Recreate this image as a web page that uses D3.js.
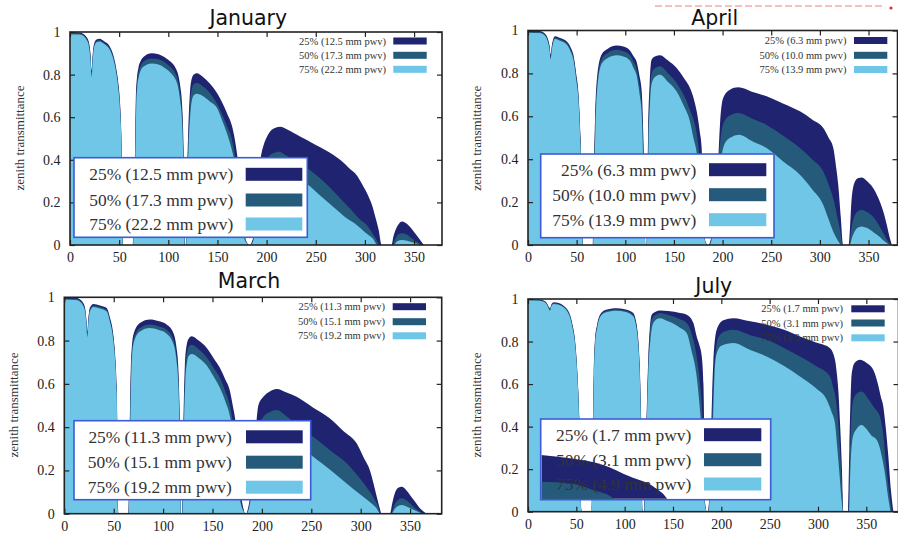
<!DOCTYPE html>
<html>
<head>
<meta charset="utf-8">
<script src="https://cdn.jsdelivr.net/npm/d3@7"></script>
<style>
	body { margin: 0; background: #fff; }
	svg { display: block; }
</style>
</head>
<body>
<svg id="chart" width="898" height="535"></svg>
<script>
// axis ticks and legend labels
const freqTicks = [0, 50, 100, 150, 200, 250, 300, 350];
const transTicks = [0, 0.2, 0.4, 0.6, 0.8, 1];
const quantiles = ["25%", "50%", "75%"];
const pwvJan = [12.5, 17.3, 22.2];
const pwvApr = [6.3, 10.0, 13.9];
const pwvMar = [11.3, 15.1, 19.2];
const pwvJul = [1.7, 3.1, 4.9];

// [frequency, zenith transmittance]
const jan25 = [[0,1],[10,0.998],[14,0.99],[17,0.975],[19,0.955],[20.8,0.9],[22,0.82],[23,0.89],[24.5,0.945],[27,0.965],[30,0.968],[35,0.955],[40,0.935],[44,0.892],[47,0.83],[49,0.767],[51,0.66],[52.3,0.5],[53.2,0.25],[53.8,0],
	[63.8,0],[65,0.2],[66,0.4],[67,0.7],[68,0.78],[69.5,0.83],[72,0.865],[75,0.884],[83,0.9],[90,0.895],[98,0.876],[103,0.858],[107,0.835],[110,0.8],[112,0.75],[114,0.66],[115.3,0.5],[116.2,0.25],[116.8,0],
	[117.8,0],[119,0.3],[120.4,0.55],[121.8,0.7],[123.8,0.78],[126,0.8],[129,0.806],[135,0.79],[142,0.759],[150,0.71],[156,0.657],[160,0.615],[164.5,0.563],[167.5,0.5],[169.6,0.438],[172,0.35],[174,0.25],[176,0.12],[178,0.04],[180,0.012],[182,0],
	[183,0],[185,0.015],[186.5,0.04],[188,0.1],[190,0.22],[192,0.33],[194,0.41],[197,0.47],[200,0.505],[204,0.535],[209,0.55],[214,0.555],[220,0.545],[230,0.52],[240,0.495],[250,0.47],[260,0.445],[268,0.422],[276,0.395],[284,0.36],[292,0.325],[298,0.278],[303,0.235],[307,0.19],[311,0.125],[314,0.07],[317,0],
	[327,0],[329,0.04],[332,0.08],[335,0.102],[337.5,0.11],[341,0.105],[346,0.085],[351,0.055],[356,0.025],[360,0]];
const jan50 = [[0,0.995],[10,0.993],[14,0.985],[17,0.968],[19,0.946],[20.8,0.885],[22,0.805],[23,0.875],[24.5,0.936],[27,0.958],[30,0.961],[35,0.948],[40,0.927],[44,0.882],[47,0.818],[49,0.752],[51,0.64],[52.3,0.48],[53.1,0.23],[53.7,0],
	[64,0],[65.2,0.2],[66.2,0.4],[67.2,0.68],[68.2,0.76],[69.7,0.81],[72,0.843],[75,0.862],[83,0.876],[90,0.872],[98,0.852],[103,0.832],[107,0.808],[110,0.77],[112,0.715],[114,0.62],[115.2,0.46],[116,0.22],[116.7,0],
	[118,0],[119.2,0.28],[120.6,0.52],[122,0.66],[124,0.735],[126,0.755],[129,0.76],[135,0.745],[142,0.715],[150,0.66],[156,0.6],[160,0.555],[164.5,0.5],[167.5,0.43],[169.6,0.37],[172,0.28],[174,0.18],[176,0.08],[178,0.03],[180,0.01],[181.8,0],
	[183.3,0],[185.3,0.012],[187,0.04],[190,0.15],[193,0.28],[196,0.35],[200,0.4],[206,0.43],[213,0.438],[220,0.42],[230,0.395],[240,0.365],[250,0.33],[260,0.29],[274.7,0.22],[285,0.17],[295,0.12],[301.8,0.094],[307,0.06],[311,0.03],[315,0],
	[328,0],[331,0.03],[334,0.05],[337.5,0.055],[342,0.05],[348,0.03],[354,0.012],[358,0]];
const jan75 = [[0,0.99],[10,0.988],[14,0.98],[17,0.962],[19,0.938],[20.8,0.872],[22,0.79],[23,0.862],[24.5,0.928],[27,0.952],[30,0.955],[35,0.942],[40,0.92],[44,0.874],[47,0.808],[49,0.74],[51,0.625],[52.3,0.46],[53,0.22],[53.6,0],
	[64.2,0],[65.4,0.2],[66.4,0.4],[67.4,0.66],[68.4,0.74],[70,0.79],[72,0.82],[75,0.838],[83,0.852],[90,0.848],[98,0.826],[103,0.805],[107,0.78],[110,0.74],[112,0.68],[114,0.58],[115.1,0.43],[115.9,0.2],[116.6,0],
	[118.2,0],[119.4,0.26],[120.8,0.48],[122.2,0.6],[124,0.68],[126,0.703],[129,0.71],[135,0.7],[142,0.675],[150,0.64],[156,0.57],[160,0.52],[164.5,0.45],[167.5,0.39],[169.6,0.34],[172,0.24],[174,0.15],[176,0.06],[178,0.022],[180,0.008],[181.6,0],
	[183.6,0],[185.6,0.01],[187.5,0.04],[191,0.15],[195,0.26],[200,0.31],[207,0.335],[214,0.344],[225,0.325],[240,0.29],[257.7,0.219],[270,0.17],[280,0.13],[291.6,0.094],[300,0.06],[308,0.03],[313,0],
	[329,0],[333,0.018],[337.5,0.023],[343,0.02],[350,0.01],[356,0]];

const mar25 = [[0,1],[12,0.998],[16,0.99],[19,0.975],[21,0.952],[22.3,0.9],[23.3,0.843],[24.3,0.9],[25.8,0.95],[29.4,0.969],[36,0.962],[42.9,0.95],[46,0.91],[49.6,0.827],[51.5,0.73],[53,0.596],[54,0.3],[54.6,0],
	[64.8,0],[66,0.35],[67.5,0.7],[69.9,0.827],[76.6,0.881],[86.7,0.897],[95,0.89],[103.6,0.874],[110.4,0.835],[113.5,0.77],[115.4,0.673],[116.8,0.45],[117.5,0.25],[118.1,0],
	[119.3,0],[120.5,0.4],[122,0.68],[123.9,0.781],[126,0.81],[129,0.82],[136,0.8],[144.2,0.766],[151,0.72],[157.6,0.673],[163,0.62],[167.7,0.566],[170.5,0.5],[172.8,0.442],[175.5,0.33],[177.5,0.15],[179.6,0.065],[181.5,0.02],[183,0],
	[184,0],[186,0.025],[187.6,0.065],[190,0.15],[192,0.28],[194,0.4],[196.4,0.5],[201.5,0.54],[208,0.565],[214.9,0.576],[225,0.56],[235.2,0.54],[252,0.49],[268.9,0.44],[283,0.38],[295.9,0.325],[303,0.26],[309.4,0.2],[313,0.14],[316.2,0.079],[319,0.03],[321.2,0],
	[329.6,0],[332,0.05],[335,0.1],[338,0.12],[341.5,0.125],[346,0.11],[351,0.08],[356,0.05],[361,0.02],[366.8,0]];
const mar50 = [[0,0.995],[12,0.993],[16,0.985],[19,0.968],[21,0.943],[22.3,0.888],[23.3,0.83],[24.3,0.888],[25.8,0.941],[29.4,0.962],[36,0.955],[42.9,0.942],[46,0.9],[49.6,0.815],[51.5,0.715],[53,0.58],[53.9,0.28],[54.5,0],
	[65,0],[66.2,0.33],[67.7,0.68],[70,0.805],[76.6,0.858],[86.7,0.874],[95,0.866],[103.6,0.85],[110.4,0.805],[113.5,0.735],[115.4,0.63],[116.7,0.42],[117.4,0.22],[118,0],
	[119.5,0],[120.7,0.38],[122.2,0.64],[124,0.74],[126,0.772],[129,0.781],[136,0.76],[144.2,0.722],[151,0.675],[157.6,0.627],[163,0.565],[167.7,0.5],[170.5,0.43],[172.8,0.37],[175.5,0.26],[177.5,0.11],[179.6,0.045],[181.5,0.015],[182.8,0],
	[184.3,0],[186.3,0.02],[188,0.06],[191,0.15],[194,0.3],[197,0.4],[202,0.45],[208,0.47],[214.9,0.479],[225,0.45],[235,0.41],[252,0.356],[270,0.29],[285.8,0.233],[298,0.17],[308,0.11],[313,0.075],[317,0.04],[320.5,0],
	[330.5,0],[334,0.04],[338,0.065],[341.5,0.071],[347,0.06],[353,0.035],[359,0.012],[364,0]];
const mar75 = [[0,0.99],[12,0.988],[16,0.98],[19,0.962],[21,0.935],[22.3,0.876],[23.3,0.818],[24.3,0.876],[25.8,0.933],[29.4,0.955],[36,0.948],[42.9,0.934],[46,0.89],[49.6,0.8],[51.5,0.7],[53,0.56],[53.8,0.26],[54.4,0],
	[65.2,0],[66.4,0.31],[67.9,0.66],[70.2,0.79],[76.6,0.842],[86.7,0.858],[95,0.85],[103.6,0.832],[110.4,0.785],[113.5,0.71],[115.4,0.6],[116.6,0.4],[117.3,0.2],[117.9,0],
	[119.7,0],[120.9,0.36],[122.4,0.6],[124.2,0.7],[126,0.73],[129,0.738],[136,0.72],[144.2,0.685],[151,0.635],[157.6,0.581],[163,0.52],[167.7,0.45],[170.5,0.38],[172.8,0.32],[175.5,0.2],[177.5,0.08],[179.6,0.03],[181.5,0.01],[182.6,0],
	[184.5,0],[186.5,0.018],[188.5,0.06],[192,0.16],[196,0.3],[202,0.36],[214.9,0.387],[225,0.37],[235,0.33],[252,0.263],[270,0.2],[285.8,0.14],[298,0.095],[309,0.055],[316,0.025],[320,0],
	[331,0],[335,0.025],[341.5,0.04],[348,0.03],[355,0.015],[362,0]];

const apr25 = [[0,1],[12,0.998],[17.5,0.985],[20.5,0.96],[22.3,0.925],[23.3,0.888],[24.5,0.93],[26,0.96],[27.7,0.973],[33,0.965],[39.7,0.95],[44,0.92],[46.6,0.888],[49.5,0.8],[51.7,0.716],[54,0.5],[55.5,0.25],[56.5,0],
	[66.5,0],[67.5,0.3],[69,0.6],[71.2,0.79],[75.7,0.888],[82,0.915],[91.2,0.93],[98,0.925],[104.8,0.907],[108.5,0.88],[111.7,0.853],[114.5,0.79],[116.9,0.716],[118.6,0.5],[119.8,0.25],[120.8,0],
	[121.8,0],[122.8,0.3],[123.6,0.55],[125,0.75],[127,0.864],[131,0.88],[135.7,0.885],[144,0.86],[152.8,0.825],[160,0.78],[166.5,0.732],[170.5,0.68],[173.4,0.623],[176.5,0.53],[178.5,0.452],[180,0.25],[181,0.1],[181.6,0.034],[183,0.01],[184.5,0],
	[185.5,0],[187,0.012],[188.4,0.034],[190.5,0.1],[193,0.25],[195.6,0.4],[197.3,0.56],[200.7,0.686],[207.6,0.724],[216.1,0.735],[230,0.715],[245.3,0.693],[262,0.66],[279.5,0.623],[292,0.585],[303.5,0.545],[309,0.5],[313.8,0.452],[316.5,0.37],[318.9,0.28],[321.5,0.13],[324,0],
	[329.5,0],[331,0.08],[332.7,0.218],[336.1,0.296],[339.5,0.312],[342.9,0.315],[348,0.3],[354.9,0.265],[360,0.22],[365.2,0.156],[369,0.09],[372,0.031],[374,0]];
const apr50 = [[0,0.995],[12,0.993],[17.5,0.98],[20.5,0.952],[22.3,0.915],[23.3,0.876],[24.5,0.92],[26,0.952],[27.7,0.966],[33,0.958],[39.7,0.942],[44,0.91],[46.6,0.876],[49.5,0.786],[51.7,0.7],[54,0.48],[55.4,0.23],[56.4,0],
	[66.7,0],[67.7,0.28],[69.2,0.58],[71.4,0.77],[75.7,0.866],[82,0.895],[91.2,0.91],[98,0.903],[104.8,0.885],[108.5,0.855],[111.7,0.82],[114.5,0.75],[116.9,0.66],[118.5,0.45],[119.7,0.22],[120.7,0],
	[122,0],[123,0.28],[123.8,0.52],[125.2,0.7],[127,0.8],[131,0.826],[135.7,0.833],[144,0.8],[152.8,0.755],[156,0.732],[160,0.7],[166,0.635],[169.6,0.592],[173.4,0.52],[176.5,0.4],[178.5,0.3],[180,0.17],[181,0.07],[181.8,0.025],[183,0.008],[184.3,0],
	[186,0],[187.3,0.01],[189,0.06],[193,0.22],[196.3,0.42],[199,0.53],[203,0.585],[209,0.607],[216.1,0.615],[230,0.59],[245.3,0.56],[262,0.51],[279.5,0.452],[292,0.4],[303.5,0.343],[310,0.27],[315.4,0.187],[318.5,0.12],[321.5,0.05],[323.5,0],
	[330,0],[332.5,0.08],[336,0.14],[340,0.16],[343,0.164],[348,0.155],[355,0.13],[361,0.09],[366,0.05],[371,0.01],[373.5,0]];
const apr75 = [[0,0.99],[12,0.988],[17.5,0.975],[20.5,0.945],[22.3,0.905],[23.3,0.865],[24.5,0.91],[26,0.945],[27.7,0.96],[33,0.952],[39.7,0.935],[44,0.9],[46.6,0.865],[49.5,0.772],[51.7,0.685],[54,0.46],[55.3,0.21],[56.3,0],
	[66.9,0],[67.9,0.26],[69.4,0.56],[71.6,0.75],[75.7,0.845],[82,0.872],[91.2,0.885],[98,0.879],[104.8,0.86],[108.5,0.825],[111.7,0.79],[114.5,0.71],[116.9,0.61],[118.4,0.4],[119.6,0.2],[120.6,0],
	[122.2,0],[123.2,0.26],[124,0.48],[125.4,0.66],[127,0.75],[131,0.785],[135.7,0.794],[144,0.76],[152.8,0.716],[160,0.65],[166.5,0.576],[170,0.5],[173.4,0.43],[176,0.32],[178,0.2],[180,0.09],[181.2,0.035],[182.5,0.01],[184,0],
	[186.5,0],[188,0.012],[190,0.06],[193,0.2],[196,0.33],[199,0.42],[203,0.48],[210,0.505],[217,0.514],[230,0.485],[245.3,0.452],[262,0.39],[279.5,0.327],[292,0.26],[303.5,0.187],[309,0.12],[313.8,0.062],[318,0.025],[322.5,0],
	[330.5,0],[333.5,0.04],[337,0.072],[340,0.083],[343,0.086],[348,0.08],[355,0.06],[361,0.04],[367,0.015],[372,0]];

const jul25 = [[0,1],[12,0.998],[17.6,0.99],[20,0.977],[21.5,0.963],[22.8,0.955],[24,0.972],[26.5,0.985],[31,0.982],[36.5,0.97],[40,0.955],[43.4,0.926],[46,0.88],[48.6,0.808],[50.5,0.7],[52,0.573],[54,0.3],[55.4,0],
	[65.8,0],[66.8,0.3],[68,0.65],[69.3,0.808],[71.5,0.88],[74.5,0.926],[80,0.948],[91.7,0.957],[100,0.952],[109,0.934],[111.5,0.9],[113,0.86],[114.1,0.808],[115.5,0.7],[117,0.45],[118.5,0],
	[120,0],[121.5,0.25],[123,0.5],[124.5,0.73],[126,0.86],[128,0.926],[132,0.94],[136.6,0.946],[145,0.943],[157.3,0.934],[164.2,0.926],[171.1,0.887],[174.5,0.824],[177.5,0.78],[179.8,0.73],[181.5,0.6],[182.3,0.35],[182.7,0.1],[183.5,0.03],[185,0],
	[185.8,0],[187,0.03],[187.8,0.1],[189,0.3],[190.5,0.55],[191.7,0.7],[195.2,0.855],[202,0.9],[212.4,0.91],[230,0.895],[246.9,0.879],[265,0.855],[281.4,0.824],[298,0.795],[312.4,0.769],[317.6,0.714],[319.5,0.65],[321,0.573],[323,0.4],[324.8,0.2],[326.2,0],
	[331,0],[332.5,0.3],[334.9,0.65],[338,0.7],[343.5,0.714],[350,0.7],[357.2,0.667],[362,0.6],[365,0.54],[367.6,0.494],[370,0.4],[372.8,0.259],[375.5,0.1],[378,0]];
const jul50 = [[0,0.997],[12,0.995],[17.6,0.987],[20,0.973],[21.5,0.958],[22.8,0.95],[24,0.968],[26.5,0.981],[31,0.978],[36.5,0.966],[40,0.95],[43.4,0.92],[46,0.872],[48.6,0.8],[50.5,0.69],[52,0.56],[53.9,0.29],[55.3,0],
	[65.9,0],[66.9,0.29],[68.1,0.64],[69.4,0.8],[71.6,0.873],[74.5,0.92],[80,0.942],[91.7,0.951],[100,0.946],[109,0.926],[111.5,0.89],[113,0.848],[114.1,0.795],[115.5,0.68],[116.9,0.43],[118.4,0],
	[120.2,0],[121.7,0.25],[123.2,0.5],[124.7,0.72],[126.3,0.85],[128.5,0.91],[133,0.928],[136.6,0.934],[145,0.925],[157.3,0.905],[164.2,0.887],[169,0.84],[174.5,0.73],[178,0.6],[180.5,0.45],[182,0.25],[182.7,0.08],[183.6,0.02],[185,0],
	[186,0],[187.2,0.025],[188,0.1],[189.3,0.3],[191,0.5],[193,0.7],[197,0.82],[204,0.848],[212.4,0.855],[230,0.83],[246.9,0.808],[265,0.77],[281.4,0.73],[298,0.685],[312.4,0.636],[316,0.58],[318.6,0.526],[321,0.42],[323,0.28],[325,0.1],[326,0],
	[331.5,0],[333,0.25],[335.5,0.5],[339,0.55],[345,0.565],[352,0.53],[358,0.49],[364.1,0.447],[367.6,0.36],[370.5,0.22],[373.5,0.1],[376.5,0]];
const jul75 = [[0,0.994],[12,0.992],[17.6,0.984],[20,0.97],[21.5,0.954],[22.8,0.945],[24,0.964],[26.5,0.977],[31,0.974],[36.5,0.962],[40,0.946],[43.4,0.914],[46,0.865],[48.6,0.79],[50.5,0.68],[52,0.55],[53.8,0.28],[55.2,0],
	[66,0],[67,0.28],[68.2,0.63],[69.5,0.79],[71.7,0.866],[74.5,0.914],[80,0.936],[91.7,0.945],[100,0.94],[109,0.918],[111.5,0.88],[113,0.836],[114.1,0.78],[115.5,0.66],[116.8,0.41],[118.3,0],
	[120.4,0],[121.9,0.25],[123.4,0.5],[124.9,0.7],[126.5,0.8],[129,0.88],[133,0.905],[136.6,0.91],[145,0.895],[157.3,0.865],[164.2,0.84],[169,0.76],[174.5,0.636],[177.5,0.5],[180,0.35],[181.8,0.18],[182.6,0.06],[183.6,0.015],[185,0],
	[186.2,0],[187.4,0.02],[188.2,0.1],[189.5,0.2],[191.5,0.45],[193,0.65],[195,0.74],[200,0.78],[212.4,0.793],[230,0.76],[246.9,0.73],[265,0.685],[281.4,0.636],[298,0.58],[309,0.526],[314,0.47],[317.6,0.416],[320,0.3],[322.2,0.18],[324.5,0.05],[325.8,0],
	[332,0],[333.5,0.2],[336,0.35],[340,0.39],[345,0.408],[350,0.39],[355,0.36],[360.7,0.338],[364,0.3],[366.5,0.25],[369.3,0.18],[372.5,0.07],[375,0]];

// the July legend box has a stray piece of another curve showing through it
const julGhost25 = [[10,0.268],[13.1,0.267],[43.4,0.251],[77.9,0.22],[105.5,0.165],[129.6,0.118],[143.5,0.063],[148,0.03],[150,0]];
const julGhost50 = [[10,0.142],[13.1,0.141],[43.4,0.134],[67.5,0.102],[88.2,0.063],[92,0.03],[94,0]];

const seriesColors = ["#1f2370", "#255a7a", "#6fc6e7"];

// where each gnuplot panel sits in the screenshot
const panels = [
	{ key: "jan", title: "January", series: [jan25, jan50, jan75], pwv: pwvJan,
		frame: { left: 70, right: 442, top: 32, bottom: 245 }, xMax: 378.4,
		titlePos: [248.3, 25], ylabPos: [19.3, 138],
		big: { x: 74, y: 157.7, w: 233.3, h: 79.6, textRight: 233.3, swX: 245.7, swW: 56.6, rows: [174.3, 200, 224] },
		small: { textRight: 386, swX: 393.3, swW: 33.4, rows: [41, 55.3, 69.3] } },
	{ key: "apr", title: "April", series: [apr25, apr50, apr75], pwv: pwvApr,
		frame: { left: 528, right: 897.5, top: 30.5, bottom: 245 }, xMax: 379.8,
		titlePos: [714.7, 25], ylabPos: [476.3, 138.3],
		big: { x: 540.7, y: 154, w: 233.3, h: 83.7, textRight: 696.3, swX: 709, swW: 57.3, rows: [169.7, 194.7, 219.7] },
		small: { textRight: 846.5, swX: 854, swW: 33.3, rows: [40.5, 55.3, 69.5] } },
	{ key: "mar", title: "March", series: [mar25, mar50, mar75], pwv: pwvMar,
		frame: { left: 64.3, right: 441.7, top: 297.3, bottom: 513.7 }, xMax: 382,
		titlePos: [249, 288], ylabPos: [13.3, 405],
		big: { x: 74, y: 420.7, w: 236.7, h: 79, textRight: 231.7, swX: 246, swW: 56.7, rows: [436.8, 462.2, 487.2] },
		small: { textRight: 385, swX: 392.7, swW: 33.3, rows: [306.7, 321.7, 335.8] } },
	{ key: "jul", title: "July", series: [jul25, jul50, jul75], pwv: pwvJul,
		ghost: [julGhost25, julGhost50],
		frame: { left: 528, right: 898.5, top: 299, bottom: 511.7 }, xMax: 383.3,
		titlePos: [713.8, 293], ylabPos: [476.3, 405],
		big: { x: 540.7, y: 419, w: 230, h: 80.7, textRight: 691.3, swX: 704, swW: 57.3, rows: [434.7, 459.7, 484] },
		small: { textRight: 843, swX: 851.3, swW: 33.4, rows: [308.8, 323, 337.8] } }
];

const svg = d3.select("#chart");
svg.append("rect").attr("width", 898).attr("height", 535).attr("fill", "#fff");

function drawPanel(p) {
	const f = p.frame;
	const x = d3.scaleLinear().domain([0, p.xMax]).range([f.left, f.right]);
	const y = d3.scaleLinear().domain([0, 1]).range([f.bottom, f.top]);
	const g = svg.append("g").attr("class", "panel " + p.key);

	const clipId = "clip-" + p.key;
	g.append("clipPath").attr("id", clipId)
		.append("rect")
		.attr("x", f.left).attr("y", f.top)
		.attr("width", f.right - f.left).attr("height", f.bottom - f.top);

	const area = d3.area()
		.x(d => x(d[0]))
		.y0(y(0))
		.y1(d => y(d[1]))
		.curve(d3.curveMonotoneX);

	// wettest percentile on top, as gnuplot stacks them
	g.append("g")
		.attr("clip-path", `url(#${clipId})`)
		.selectAll("path")
		.data(p.series)
		.enter().append("path")
		.attr("d", area)
		.attr("fill", (d, i) => seriesColors[i]);

	// inward ticks on all four sides
	const styleAxis = sel => {
		sel.select(".domain").remove();
		sel.selectAll(".tick line").attr("stroke", "#222").attr("stroke-width", 1.2);
		sel.selectAll(".tick text")
			.attr("fill", "#222")
			.style("font-family", "'Liberation Serif', 'DejaVu Serif', serif")
			.style("font-size", "14px");
	};
	g.append("g").attr("transform", `translate(0,${f.bottom})`)
		.call(d3.axisBottom(x).tickValues(freqTicks).tickSize(-5).tickPadding(7))
		.call(styleAxis);
	g.append("g").attr("transform", `translate(0,${f.top})`)
		.call(d3.axisTop(x).tickValues(freqTicks).tickSize(-5).tickFormat(""))
		.call(styleAxis);
	g.append("g").attr("transform", `translate(${f.left},0)`)
		.call(d3.axisLeft(y).tickValues(transTicks).tickSize(-5).tickPadding(9.5).tickFormat(d => String(d)))
		.call(styleAxis);
	g.append("g").attr("transform", `translate(${f.right},0)`)
		.call(d3.axisRight(y).tickValues(transTicks).tickSize(-5).tickFormat(""))
		.call(styleAxis);

	g.append("rect")
		.attr("x", f.left).attr("y", f.top)
		.attr("width", f.right - f.left).attr("height", f.bottom - f.top)
		.attr("fill", "none").attr("stroke", "#222").attr("stroke-width", 1.6);

	const labels = quantiles.map((q, i) => `${q} (${p.pwv[i].toFixed(1)} mm pwv)`);

	// gnuplot's own key, top right
	const sm = g.append("g").attr("class", "key-small");
	sm.selectAll("text").data(labels).enter().append("text")
		.attr("x", p.small.textRight)
		.attr("y", (d, i) => p.small.rows[i])
		.attr("dy", "0.35em")
		.attr("text-anchor", "end")
		.attr("fill", "#333")
		.style("font-family", "'Liberation Serif', serif")
		.style("font-size", "10.5px")
		.text(d => d);
	sm.selectAll("rect").data(labels).enter().append("rect")
		.attr("x", p.small.swX)
		.attr("y", (d, i) => p.small.rows[i] - 3.5)
		.attr("width", p.small.swW).attr("height", 7)
		.attr("fill", (d, i) => seriesColors[i]);

	// the enlarged key pasted over the plot
	const b = p.big;
	const big = g.append("g").attr("class", "key-big");
	big.append("rect")
		.attr("x", b.x).attr("y", b.y).attr("width", b.w).attr("height", b.h)
		.attr("fill", "#fff").attr("stroke", "#3d5bd6").attr("stroke-width", 1.6);

	if (p.ghost) {
		const gid = "ghost-" + p.key;
		big.append("clipPath").attr("id", gid)
			.append("rect")
			.attr("x", b.x + 1).attr("y", b.y + 1).attr("width", b.w - 2).attr("height", b.h - 2);
		big.append("g").attr("clip-path", `url(#${gid})`)
			.selectAll("path").data(p.ghost).enter().append("path")
			.attr("d", area)
			.attr("fill", (d, i) => seriesColors[i]);
	}

	big.selectAll("text").data(labels).enter().append("text")
		.attr("x", b.textRight)
		.attr("y", (d, i) => b.rows[i])
		.attr("dy", "0.35em")
		.attr("text-anchor", "end")
		.attr("fill", "#333")
		.style("font-family", "'Liberation Serif', serif")
		.style("font-size", "17.4px")
		.text(d => d);
	big.selectAll("rect.sw").data(labels).enter().append("rect")
		.attr("class", "sw")
		.attr("x", b.swX)
		.attr("y", (d, i) => b.rows[i] - 6.5)
		.attr("width", b.swW).attr("height", 13)
		.attr("fill", (d, i) => seriesColors[i]);

	g.append("text")
		.attr("x", p.titlePos[0]).attr("y", p.titlePos[1])
		.attr("text-anchor", "middle")
		.attr("fill", "#111")
		.style("font-family", "'DejaVu Sans', sans-serif")
		.style("font-size", "20.5px")
		.text(p.title);

	g.append("text")
		.attr("transform", `translate(${p.ylabPos[0]},${p.ylabPos[1]}) rotate(-90)`)
		.attr("dy", "0.35em")
		.attr("text-anchor", "middle")
		.attr("fill", "#333")
		.style("font-family", "'Liberation Serif', serif")
		.style("font-size", "13px")
		.text("zenith transmittance");
}

panels.forEach(drawPanel);

// faint leftover of slide text above the April panel
svg.append("line")
	.attr("x1", 655).attr("x2", 884).attr("y1", 6).attr("y2", 6)
	.attr("stroke", "#f4c0c0").attr("stroke-width", 2).attr("stroke-dasharray", "7 3");
svg.append("circle").attr("cx", 891).attr("cy", 8).attr("r", 1.6).attr("fill", "#e03030");
</script>
</body>
</html>
